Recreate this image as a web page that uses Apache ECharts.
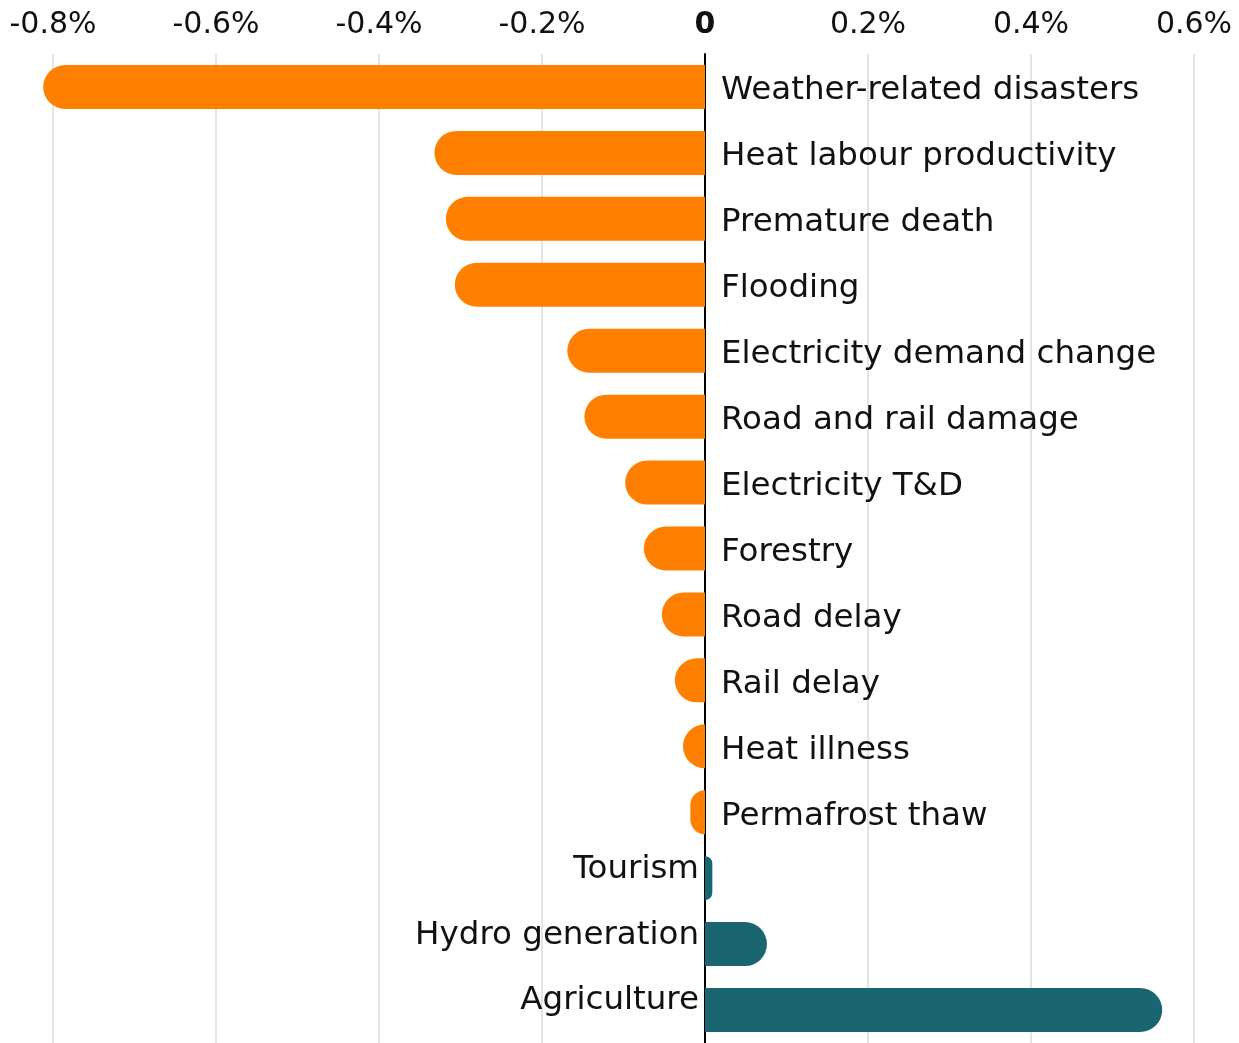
<!DOCTYPE html>
<html>
<head>
<meta charset="utf-8">
<script src="https://cdn.jsdelivr.net/npm/echarts@6/dist/echarts.min.js"></script>
<style>
  html, body { margin: 0; padding: 0; background: #fff; }
  #chart { width: 1239px; height: 1043px; }
</style>
</head>
<body>
<div id="chart"></div>
<script>
var categories = ['Weather-related disasters', 'Heat labour productivity', 'Premature death', 'Flooding',
    'Electricity demand change', 'Road and rail damage', 'Electricity T&D', 'Forestry', 'Road delay',
    'Rail delay', 'Heat illness', 'Permafrost thaw', 'Tourism', 'Hydro generation', 'Agriculture'];
var values = [-0.812, -0.332, -0.318, -0.307, -0.169, -0.148, -0.098, -0.075, -0.053,
    -0.037, -0.027, -0.018, 0.009, 0.076, 0.561];
var tickValues = [-0.8, -0.6, -0.4, -0.2, 0, 0.2, 0.4, 0.6];

var myChart = echarts.init(document.getElementById('chart'));
var FONT = 'DejaVu Sans';

var items = [];
for (var i = 0; i < values.length; i++) {
    var neg = values[i] < 0;
    items.push({
        value: values[i],
        itemStyle: {
            color: neg ? '#ff8000' : '#1a6670',
            borderRadius: neg ? [22, 0, 0, 22] : [0, 22, 22, 0]
        },
        label: {
            position: neg ? 'right' : 'left',
            distance: neg ? 16 : 6,
            offset: neg ? [0, 4] : [0, -9]
        }
    });
}

var option = {
    backgroundColor: '#fff',
    animation: false,
    grid: {
        left: 53,
        right: 45,
        top: 54,
        bottom: 0,
        containLabel: false
    },
    xAxis: {
        type: 'value',
        position: 'top',
        min: tickValues[0],
        max: tickValues[tickValues.length - 1],
        interval: 0.2,
        axisLine: { show: false },
        axisTick: { show: false },
        axisLabel: {
            margin: 14,
            fontFamily: FONT,
            fontSize: 30,
            color: '#111',
            formatter: function (v) {
                if (Math.abs(v) < 1e-9) return '{b|0}';
                return v.toFixed(1) + '%';
            },
            rich: {
                b: { fontFamily: FONT, fontSize: 30, fontWeight: 'bold', color: '#111' }
            }
        },
        splitLine: {
            lineStyle: { color: '#e4e4e4', width: 2 }
        }
    },
    yAxis: {
        type: 'category',
        inverse: true,
        data: categories,
        axisLine: {
            onZero: true,
            lineStyle: { color: '#000', width: 2 }
        },
        axisTick: { show: false },
        axisLabel: { show: false },
        splitLine: { show: false }
    },
    series: [{
        type: 'bar',
        data: items,
        barWidth: 44,
        clip: false,
        label: {
            show: true,
            fontFamily: FONT,
            fontSize: 32.5,
            color: '#111',
            formatter: function (p) { return p.name; }
        }
    }]
};

myChart.setOption(option);
window.addEventListener("resize", function () {
    myChart.resize();
});
</script>
</body>
</html>
